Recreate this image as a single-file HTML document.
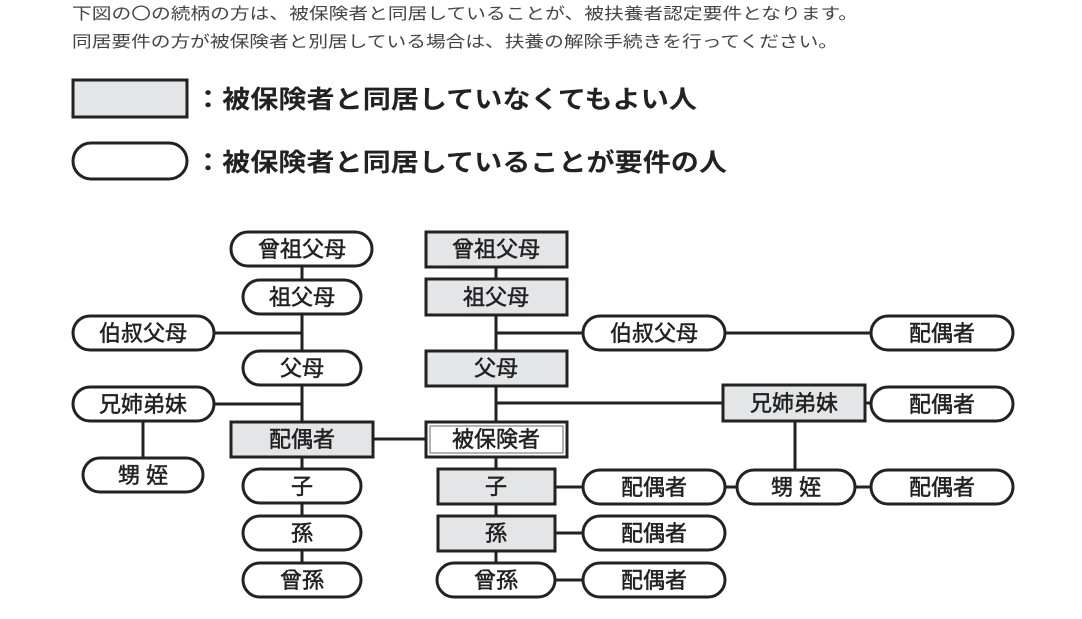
<!DOCTYPE html>
<html><head><meta charset="utf-8"><style>
html,body{margin:0;padding:0;background:#fff;}
svg{display:block}
text{font-family:"Liberation Sans","Noto Sans CJK JP",sans-serif;}
</style></head><body>
<svg width="1082" height="619" viewBox="0 0 1082 619" xmlns="http://www.w3.org/2000/svg">
<g fill="#444" font-size="16">
<text x="72" y="19" textLength="786" lengthAdjust="spacingAndGlyphs">下図の〇の続柄の方は、被保険者と同居していることが、被扶養者認定要件となります。</text>
<text x="72" y="47" textLength="766" lengthAdjust="spacingAndGlyphs">同居要件の方が被保険者と別居している場合は、扶養の解除手続きを行ってください。</text>
</g>
<rect x="73" y="80" width="114" height="37" fill="#e4e5e7" stroke="#222" stroke-width="3"/>
<rect x="73" y="143" width="114" height="36" rx="18" fill="#fff" stroke="#222" stroke-width="3"/>
<g fill="#222" font-size="25" font-weight="bold">
<text x="194" y="108" textLength="503" lengthAdjust="spacingAndGlyphs">：被保険者と同居していなくてもよい人</text>
<text x="194" y="171" textLength="533" lengthAdjust="spacingAndGlyphs">：被保険者と同居していることが要件の人</text>
</g>
<g stroke="#222" stroke-width="3" fill="none">
<line x1="302" y1="249" x2="302" y2="580"/>
<line x1="143" y1="333" x2="302" y2="333"/>
<line x1="143" y1="404" x2="302" y2="404"/>
<line x1="143" y1="404" x2="143" y2="475"/>
<line x1="302" y1="439" x2="496" y2="439"/>
<line x1="496" y1="249" x2="496" y2="580"/>
<line x1="496" y1="333" x2="942" y2="333"/>
<line x1="496" y1="403" x2="942" y2="403"/>
<line x1="795" y1="403" x2="795" y2="487"/>
<line x1="496" y1="487" x2="942" y2="487"/>
<line x1="496" y1="533" x2="654" y2="533"/>
<line x1="496" y1="580" x2="654" y2="580"/>
</g>
<g stroke="#222" stroke-width="3" fill="#fff">
<rect x="231" y="232" width="141" height="34" rx="17"/>
<rect x="243" y="280" width="118" height="34" rx="17"/>
<rect x="73" y="316" width="141" height="34" rx="17"/>
<rect x="243" y="351" width="118" height="34" rx="17"/>
<rect x="73" y="387" width="141" height="34" rx="17"/>
<rect x="83" y="458" width="120" height="34" rx="17"/>
<rect x="243" y="469" width="118" height="34" rx="17"/>
<rect x="243" y="516" width="118" height="34" rx="17"/>
<rect x="243" y="563" width="118" height="34" rx="17"/>
<rect x="437" y="563" width="118" height="34" rx="17"/>
<rect x="583" y="316" width="142" height="34" rx="17"/>
<rect x="871" y="316" width="142" height="34" rx="17"/>
<rect x="871" y="387" width="142" height="34" rx="17"/>
<rect x="737" y="470" width="118" height="34" rx="17"/>
<rect x="871" y="470" width="142" height="34" rx="17"/>
<rect x="583" y="470" width="142" height="34" rx="17"/>
<rect x="583" y="516" width="142" height="34" rx="17"/>
<rect x="583" y="563" width="142" height="34" rx="17"/>
</g>
<g stroke="#222" stroke-width="3" fill="#e4e5e7">
<rect x="231" y="422" width="142" height="35"/>
<rect x="426" y="232" width="141" height="35"/>
<rect x="426" y="279" width="141" height="36"/>
<rect x="426" y="351" width="141" height="35"/>
<rect x="438" y="469" width="117" height="35"/>
<rect x="438" y="516" width="117" height="35"/>
<rect x="723" y="385" width="142" height="36"/>
<rect x="426" y="422" width="141" height="35" fill="#fff"/>
</g>
<rect x="430" y="426" width="133" height="27" fill="none" stroke="#666" stroke-width="1"/>
<g fill="#222" stroke="#222" stroke-width="0.5" font-size="22" text-anchor="middle">
<text x="302" y="257">曾祖父母</text>
<text x="302" y="305">祖父母</text>
<text x="143" y="341">伯叔父母</text>
<text x="302" y="376">父母</text>
<text x="143" y="412">兄姉弟妹</text>
<text x="302" y="447">配偶者</text>
<text x="143" y="483">甥 姪</text>
<text x="302" y="494">子</text>
<text x="302" y="541">孫</text>
<text x="302" y="588">曾孫</text>
<text x="496" y="257">曾祖父母</text>
<text x="496" y="305">祖父母</text>
<text x="496" y="376">父母</text>
<text x="496" y="447">被保険者</text>
<text x="496" y="494">子</text>
<text x="496" y="541">孫</text>
<text x="496" y="588">曾孫</text>
<text x="654" y="341">伯叔父母</text>
<text x="942" y="341">配偶者</text>
<text x="794" y="411">兄姉弟妹</text>
<text x="942" y="412">配偶者</text>
<text x="796" y="495">甥 姪</text>
<text x="942" y="495">配偶者</text>
<text x="654" y="495">配偶者</text>
<text x="654" y="541">配偶者</text>
<text x="654" y="588">配偶者</text>
</g>
</svg>
</body></html>
